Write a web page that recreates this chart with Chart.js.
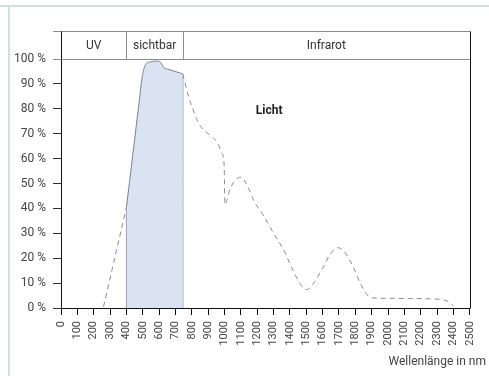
<!DOCTYPE html>
<html lang="de">
<head>
<meta charset="utf-8">
<title>Licht – Wellenlänge</title>
<script src="https://cdn.jsdelivr.net/npm/chart.js@4.4.1/dist/chart.umd.min.js"></script>
<style>
  html, body { margin: 0; padding: 0; background: #fff; }
  #wrap { position: relative; width: 489px; height: 376px; overflow: hidden; }
  .hline { position: absolute; left: 0; top: 5px; width: 489px; height: 2px; background: #cfe3da; }
  .vline { position: absolute; left: 8px; top: 5px; width: 2px; height: 371px; background: #cfe3da; }
  canvas { position: absolute; left: 0; top: 0; }
</style>
</head>
<body>
<div id="wrap">
  <div class="hline"></div>
  <div class="vline"></div>
  <canvas id="chart" width="489" height="376"></canvas>
</div>
<script>
// spectral bands shown in the header row
const bandEdges = [0, 400, 745, 2500];
const bandLabels = ['UV', 'sichtbar', 'Infrarot'];

// UV part of the curve (dashed)
const uvNm  = [260, 400];
const uvPct = [0.5, 40.4];

// visible part (solid, filled)
const visNm  = [400, 440, 480, 497, 515, 545, 590, 610, 630, 660, 745];
const visPct = [40.4, 62, 84, 93, 97.5, 98.8, 99.2, 98.5, 96.5, 95.8, 94];

// infrared part (dashed)
const irNm  = [745, 760, 780, 800, 840, 880, 920, 960, 985, 998, 1002, 1030, 1060, 1100, 1140, 1180, 1240, 1300, 1360, 1420, 1470, 1503, 1540, 1600, 1650, 1694, 1740, 1785, 1830, 1870, 1896, 2000, 2127, 2250, 2330, 2370, 2400];
const irPct = [94, 90, 85, 81, 74.4, 71, 69, 66, 62, 57, 41.5, 47, 51, 52.5, 49, 43, 37, 30, 23.5, 15, 9, 7.4, 9.5, 16, 22, 24.2, 22, 16.8, 10, 5.5, 4.1, 3.9, 3.8, 3.7, 3.4, 2.5, 0.8];

const toPoints = (xs, ys) => xs.map((v, i) => ({ x: v, y: ys[i] }));

const FONT = 'Roboto, "Liberation Sans", sans-serif';
const bandHeight = 28;

// header band, frame lines and labels
const overlay = {
  id: 'overlay',
  afterDraw(chart) {
    const { ctx, chartArea: a, scales: { x, y } } = chart;
    const px = v => Math.round(x.getPixelForValue(v)) + 0.5;
    const top = Math.round(a.top - bandHeight) + 0.5;
    const yTop = Math.round(y.getPixelForValue(100)) + 0.5;
    const right = px(bandEdges[bandEdges.length - 1]);
    ctx.save();
    ctx.lineWidth = 1;

    // band box
    ctx.strokeStyle = '#8c8c8c';
    ctx.beginPath();
    ctx.moveTo(a.left - 8, top); ctx.lineTo(right, top);
    ctx.moveTo(a.left - 8, yTop); ctx.lineTo(right, yTop);
    bandEdges.slice(1, -1).forEach(e => { ctx.moveTo(px(e), top); ctx.lineTo(px(e), yTop); });
    ctx.stroke();

    // y axis up through the band, right border
    ctx.strokeStyle = '#111';
    ctx.beginPath();
    ctx.moveTo(px(0), top); ctx.lineTo(px(0), yTop);
    ctx.moveTo(right, top); ctx.lineTo(right, Math.round(a.bottom) + 0.5);
    ctx.stroke();

    ctx.fillStyle = '#333';
    ctx.font = '12px ' + FONT;
    ctx.textAlign = 'center';
    ctx.textBaseline = 'middle';
    bandLabels.forEach((t, i) => {
      ctx.fillText(t, (x.getPixelForValue(bandEdges[i]) + x.getPixelForValue(bandEdges[i + 1])) / 2, (top + yTop) / 2);
    });

    ctx.fillStyle = '#222';
    ctx.font = 'bold 12px ' + FONT;
    ctx.fillText('Licht', x.getPixelForValue(1273), y.getPixelForValue(79.3));

    ctx.fillStyle = '#444';
    ctx.font = '12px ' + FONT;
    ctx.textAlign = 'right';
    ctx.fillText('Wellenlänge in nm', chart.width - 3, 362);
    ctx.restore();
  }
};

const ctx = document.getElementById('chart').getContext('2d');
const chart = new Chart(ctx, {
  type: 'line',
  data: {
    datasets: [
      {
        data: toPoints(visNm, visPct),
        borderColor: '#7d838c',
        borderWidth: 1,
        backgroundColor: '#dae3f2',
        fill: 'origin',
        cubicInterpolationMode: 'monotone',
        pointRadius: 0
      },
      {
        data: [{ x: visNm[0], y: 0 }, { x: visNm[0], y: visPct[0] }],
        borderColor: '#7d838c', borderWidth: 1, pointRadius: 0, fill: false
      },
      {
        data: [{ x: visNm[visNm.length - 1], y: 0 }, { x: visNm[visNm.length - 1], y: visPct[visPct.length - 1] }],
        borderColor: '#7d838c', borderWidth: 1, pointRadius: 0, fill: false
      },
      {
        data: toPoints(uvNm, uvPct),
        borderColor: '#8a8a8a', borderWidth: 1, borderDash: [5, 4],
        pointRadius: 0, fill: false
      },
      {
        data: toPoints(irNm, irPct),
        borderColor: '#8a8a8a', borderWidth: 1, borderDash: [5, 4],
        cubicInterpolationMode: 'monotone',
        pointRadius: 0, fill: false
      }
    ]
  },
  options: {
    responsive: false,
    animation: false,
    devicePixelRatio: 1,
    layout: { padding: { left: 9, top: 59, right: 14, bottom: 0 } },
    plugins: { legend: { display: false }, tooltip: { enabled: false } },
    scales: {
      x: {
        type: 'linear',
        min: 0, max: 2500,
        afterFit: s => { s.height = 68; },
        grid: { drawOnChartArea: false, tickLength: 7, color: '#111' },
        border: { color: '#111' },
        ticks: {
          stepSize: 100, autoSkip: false, maxRotation: 90, minRotation: 90,
          padding: 6, color: '#444', font: { family: FONT, size: 11 },
          callback: v => String(v)
        }
      },
      y: {
        min: 0, max: 100,
        afterFit: s => { s.width = 52; },
        grid: { drawOnChartArea: false, tickLength: 8, color: '#333' },
        border: { color: '#111' },
        ticks: {
          stepSize: 10, padding: 7, color: '#444', font: { family: FONT, size: 12 },
          callback: v => v + ' %'
        }
      }
    }
  },
  plugins: [overlay]
});
</script>
</body>
</html>
